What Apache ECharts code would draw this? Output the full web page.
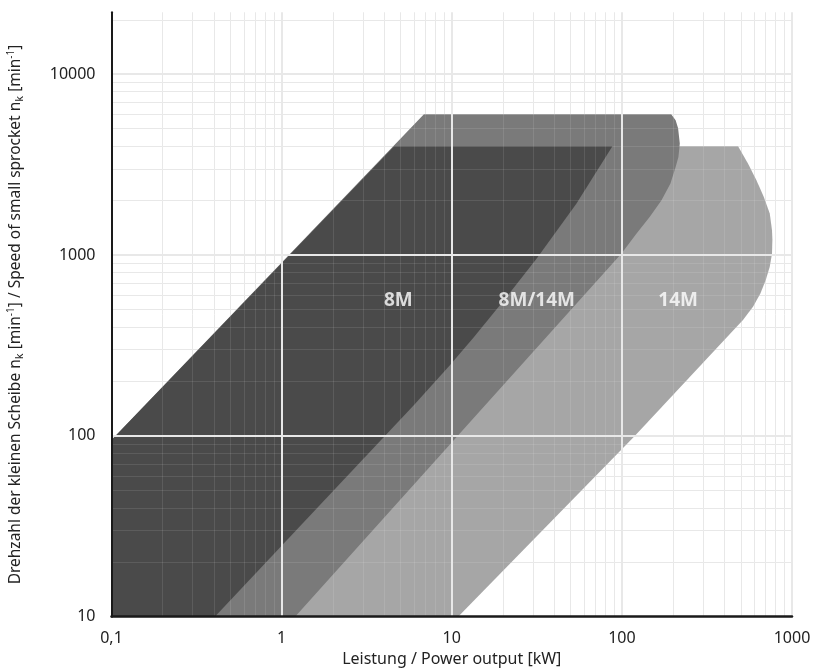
<!DOCTYPE html>
<html>
<head>
<meta charset="utf-8">
<script src="https://cdn.jsdelivr.net/npm/echarts@6/dist/echarts.min.js"></script>
<style>html,body{margin:0;padding:0;background:#fff}#c{width:827px;height:668px}</style>
</head>
<body>
<div id="c"></div>
<script>
// ---- data (power in kW, speed in min^-1) ----
const darkP  = [0.1, 0.1, 4.59, 88,   54,   31.5, 20,  13.4, 9.75, 6,   0.405];
const darkN  = [10,  95,  4000, 4000, 1923, 954,  553, 349,  246,  148, 10];
const medP   = [0.1, 0.1, 6.86, 195,  207,  214,  219,  215,  207,  193,  171,  146,  122,  99.5, 1.2];
const medN   = [10,  95,  6000, 6000, 5569, 5029, 4140, 3490, 3073, 2488, 2012, 1627, 1317, 1021, 10];
const lightP = [1.2, 10,   482,  551,  618,  682,  740,  763,  767,  763,  740, 701, 652, 590, 515, 119,  10.9];
const lightN = [10,  4000, 4000, 3210, 2592, 2098, 1698, 1373, 1218, 1021, 861, 727, 613, 517, 437, 99.8, 10];
const regionNames = ['8M', '8M/14M', '14M'];
const regionLabelP = [4.85, 31.6, 214];
const regionLabelN = [560, 560, 560];
const xTickValues = [0.1, 1, 10, 100, 1000];
const xTickLabels = ['0,1', '1', '10', '100', '1000'];
const yTickValues = [10, 100, 1000, 10000];
const yTickLabels = ['10', '100', '1000', '10000'];
const xMajor = [1, 10, 100, 1000];
const yMajor = [100, 1000, 10000];
const xDecades = [0.1, 1, 10, 100];
const yDecades = [10, 100, 1000, 10000];
const yMax = 22000;

const minorX = [], minorY = [];
xDecades.forEach(d => { for (let k = 2; k <= 9; k++) minorX.push(d * k); });
yDecades.forEach(d => { for (let k = 2; k <= 9; k++) if (d * k < yMax) minorY.push(d * k); });

const FONT = 'Noto Sans';
const chart = echarts.init(document.getElementById('c'), null, {renderer: 'canvas'});

function polySeries(name, P, N, color, z) {
  return {
    type: 'custom', name: name, z: z, silent: true, animation: false,
    data: P.map((p, i) => [p, N[i]]),
    renderItem: function (params, api) {
      if (params.dataIndex !== 0) return null;
      return {
        type: 'polygon',
        shape: { points: P.map((p, i) => api.coord([p, N[i]])) },
        style: { fill: color }
      };
    }
  };
}
function gridLines(xs, ys, color, width, z) {
  return {
    type: 'line', data: [], silent: true, animation: false,
    markLine: {
      z: z, silent: true, animation: false, symbol: ['none', 'none'],
      label: { show: false },
      lineStyle: { color: color, width: width, type: 'solid' },
      emphasis: { disabled: true },
      data: xs.map(v => ({ xAxis: v })).concat(ys.map(v => ({ yAxis: v })))
    }
  };
}

const option = {
  animation: false,
  grid: { left: 111.5, right: 35, top: 12.3, bottom: 51.3, containLabel: false, outerBoundsMode: 'none' },
  xAxis: {
    type: 'log', logBase: 10, min: 0.1, max: 1000, z: 10,
    axisLine: { show: true, lineStyle: { color: '#1a1a1a', width: 2.5 } },
    axisTick: { show: false },
    splitLine: { show: false },
    axisLabel: {
      margin: 14, fontFamily: FONT, fontSize: 16, color: '#222',
      formatter: function (v) {
        const i = xTickValues.findIndex(t => Math.abs(Math.log10(t) - Math.log10(v)) < 1e-6);
        return i >= 0 ? xTickLabels[i] : '';
      }
    },
    name: 'Leistung / Power output [kW]', nameLocation: 'middle', nameGap: 35,
    nameTextStyle: { fontFamily: FONT, fontSize: 16, color: '#222' }
  },
  yAxis: {
    type: 'log', logBase: 10, min: 10, max: yMax, z: 10,
    axisLine: { show: true, lineStyle: { color: '#1a1a1a', width: 2 } },
    axisTick: { show: false },
    splitLine: { show: false },
    axisLabel: {
      margin: 16, fontFamily: FONT, fontSize: 16, color: '#222',
      formatter: function (v) {
        const i = yTickValues.findIndex(t => Math.abs(Math.log10(t) - Math.log10(v)) < 1e-6);
        return i >= 0 ? yTickLabels[i] : '';
      }
    },
    name: 'Drehzahl der kleinen Scheibe n{sub|k} [min{sup|-1}] / Speed of small sprocket n{sub|k} [min{sup|-1}]',
    nameLocation: 'middle', nameGap: 86,
    nameTextStyle: {
      fontFamily: FONT, fontSize: 15.5, color: '#222', lineHeight: 19,
      rich: {
        sub: { fontFamily: FONT, fontSize: 11, lineHeight: 11, verticalAlign: 'bottom', color: '#222' },
        sup: { fontFamily: FONT, fontSize: 10, lineHeight: 10, verticalAlign: 'top', color: '#222' }
      }
    }
  },
  series: [
    gridLines(minorX, minorY, '#e6e6e6', 1, 1),
    polySeries('14M', lightP, lightN, '#a6a6a6', 2),
    polySeries('8M/14M', medP, medN, '#7a7a7a', 3),
    polySeries('8M', darkP, darkN, '#4a4a4a', 4),
    gridLines(minorX, minorY, 'rgba(255,255,255,0.1)', 1, 6),
    gridLines(xMajor, yMajor, '#e8e8e8', 2, 7),
    {
      type: 'scatter', z: 8, silent: true, animation: false, symbolSize: 0,
      data: regionNames.map((n, i) => ({ name: n, value: [regionLabelP[i], regionLabelN[i]] })),
      label: {
        show: true, position: 'inside', formatter: '{b}',
        fontFamily: FONT, fontWeight: 'bold', fontSize: 19, color: '#ffffff'
      }
    }
  ]
};
chart.setOption(option);
</script>
</body>
</html>
